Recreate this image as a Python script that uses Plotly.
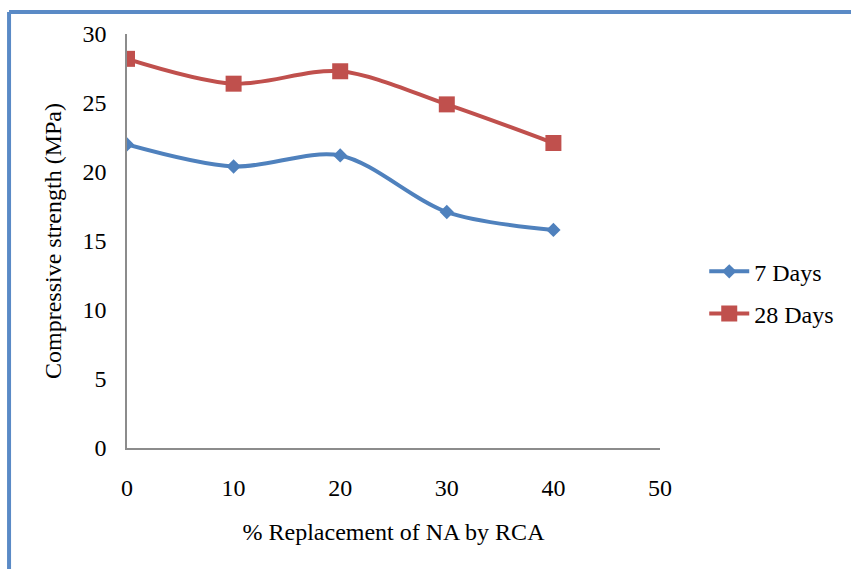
import plotly.graph_objects as go

# Compressive strength vs. % replacement of natural aggregate (NA) by recycled concrete aggregate (RCA)
replacement = [0, 10, 20, 30, 40]
strength_7d = [22.0, 20.4, 21.2, 17.1, 15.8]
strength_28d = [28.2, 26.4, 27.3, 24.9, 22.1]
x_ticks = [0, 10, 20, 30, 40, 50]
y_ticks = [0, 5, 10, 15, 20, 25, 30]

BLUE = "#4F81BD"
RED = "#C0504D"
FONT = "Liberation Serif, Times New Roman, serif"

fig = go.Figure()
fig.add_trace(go.Scatter(
    x=replacement, y=strength_7d, name="7 Days", mode="lines+markers",
    line=dict(color=BLUE, width=4, shape="spline", smoothing=0.9),
    marker=dict(symbol="diamond", size=11, color=BLUE),
    legendgroup="a",
))
fig.add_trace(go.Scatter(
    x=replacement, y=strength_28d, name="28 Days", mode="lines+markers",
    line=dict(color=RED, width=4, shape="spline", smoothing=0.9),
    marker=dict(symbol="square", size=16, color=RED),
    legendgroup="b",
))

# Frame border around the figure
border = dict(color="#5A8AC6", width=4)
fig.add_shape(type="line", xref="paper", yref="paper",
              x0=-0.2213, x1=-0.2213, y0=1.0531, y1=-0.35, line=border)
fig.add_shape(type="line", xref="paper", yref="paper",
              x0=-0.2213, x1=1.40, y0=1.0531, y1=1.0531, line=border)

fig.update_layout(
    width=851, height=569,
    margin=dict(l=127, r=191, t=34, b=121, autoexpand=False),
    paper_bgcolor="white", plot_bgcolor="white",
    font=dict(family=FONT, size=24, color="black"),
    showlegend=True,
    legend=dict(x=1.083, y=0.375, xanchor="left", yanchor="middle",
                font=dict(family=FONT, size=24), tracegroupgap=8,
                bgcolor="rgba(0,0,0,0)", itemwidth=40),
    xaxis=dict(
        range=[0, 50], tickvals=x_ticks, showgrid=False, zeroline=False,
        showline=True, linecolor="#8C8C8C", linewidth=1.5,
        ticks="", ticklabelstandoff=17,
        title=dict(text="% Replacement of NA by RCA", standoff=24,
                   font=dict(family=FONT, size=24)),
    ),
    yaxis=dict(
        range=[0, 30], tickvals=y_ticks, showgrid=False, zeroline=False,
        showline=True, linecolor="#8C8C8C", linewidth=1.5,
        ticks="", ticklabelstandoff=14,
        title=dict(text="Compressive strength (MPa)", standoff=14,
                   font=dict(family=FONT, size=24)),
    ),
)

fig.write_html("out.html")
